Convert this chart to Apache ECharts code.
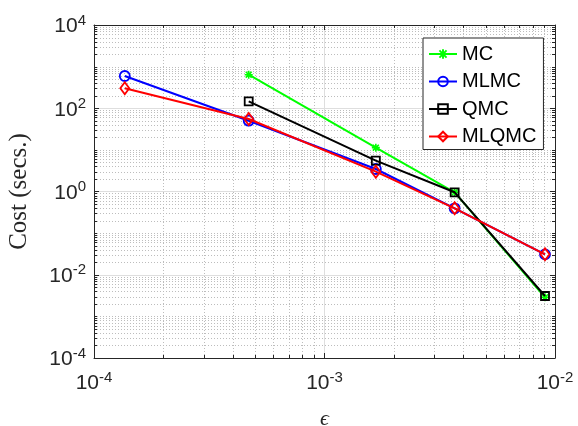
<!DOCTYPE html>
<html>
<head>
<meta charset="utf-8">
<script src="https://cdn.jsdelivr.net/npm/echarts@6/dist/echarts.min.js"></script>
<style>html,body{margin:0;padding:0;background:#fff;}#c{width:578px;height:426px;}</style>
</head>
<body>
<div id="c"></div>
<script>
// ---- data ----
const epsilon   = [1.36e-4, 4.69e-4, 1.67e-3, 3.67e-3, 9.05e-3];
const costMC    = [null,   640,  11.3, 0.957, 0.00287];
const costMLMC  = [596,    50.2, 3.47, 0.395, 0.031];
const costQMC   = [null,   147,  5.5,  0.957, 0.00309];
const costMLQMC = [301,    55.2, 2.99, 0.395, 0.031];
const seriesNames = ['MC', 'MLMC', 'QMC', 'MLQMC'];

// axis structure
const xRange = [1e-4, 1e-2];
const yRange = [1e-4, 1e4];
const xDecades = [-4, -3];
const yDecades = [-4, -3, -2, -1, 0, 1, 2, 3];
const multipliers = [1, 2, 3, 4, 5, 6, 7, 8, 9];
const xMajorStep = 1, yMajorStep = 2;

function minorTicks(decades, step) {
  const out = [];
  decades.forEach(d => multipliers.forEach(m => {
    if (m === 1 && d % step === 0) return;
    out.push(m * Math.pow(10, d));
  }));
  return out;
}
const xMinor = minorTicks(xDecades, xMajorStep);
const yMinor = minorTicks(yDecades, yMajorStep);

function pairs(ys) {
  const r = [];
  ys.forEach((y, i) => { if (y != null) r.push([epsilon[i], y]); });
  return r;
}

const AX = '#262626';
const FONT = "'Liberation Sans', Arial, Helvetica, sans-serif";
const SERIF = "'Liberation Serif', 'Times New Roman', 'DejaVu Serif', serif";

const labelRich = {
  b: { fontSize: 21, fontFamily: FONT, color: AX, lineHeight: 24, verticalAlign: 'bottom' },
  s: { fontSize: 15, fontFamily: FONT, color: AX, lineHeight: 24, verticalAlign: 'top' }
};
function powLabel(v) {
  const e = Math.round(Math.log10(v));
  return '{b|10}{s|' + e + '}';
}

const asterisk = 'path://M4 0h2v10h-2zM0 4h10v2h-10zM0.6 2L2 0.6L9.4 8L8 9.4zM8 0.6L9.4 2L2 9.4L0.6 8z';

function minorRender(orient) {
  return function (params, api) {
    const v = api.value(orient === 'h' ? 1 : 0);
    let p0, p1;
    if (orient === 'h') {
      p0 = api.coord([xRange[0], v]); p1 = api.coord([xRange[1], v]);
    } else {
      p0 = api.coord([v, yRange[0]]); p1 = api.coord([v, yRange[1]]);
    }
    const children = [];
    const tl = 3;
    if (orient === 'h') {
      const y = Math.round(p0[1]) + 0.5;
      children.push({ type: 'line', shape: { x1: p0[0], y1: y, x2: p1[0], y2: y },
        style: { stroke: '#bdbdbd', lineWidth: 1, lineDash: [1, 2] } });
      children.push({ type: 'line', shape: { x1: p0[0], y1: y, x2: p0[0] + tl, y2: y }, style: { stroke: AX, lineWidth: 1 } });
      children.push({ type: 'line', shape: { x1: p1[0], y1: y, x2: p1[0] - tl, y2: y }, style: { stroke: AX, lineWidth: 1 } });
    } else {
      const x = Math.round(p0[0]) + 0.5;
      children.push({ type: 'line', shape: { x1: x, y1: p0[1], x2: x, y2: p1[1] },
        style: { stroke: '#bdbdbd', lineWidth: 1, lineDash: [1, 2] } });
      children.push({ type: 'line', shape: { x1: x, y1: p0[1], x2: x, y2: p0[1] - tl }, style: { stroke: AX, lineWidth: 1 } });
      children.push({ type: 'line', shape: { x1: x, y1: p1[1], x2: x, y2: p1[1] + tl }, style: { stroke: AX, lineWidth: 1 } });
    }
    return { type: 'group', children: children };
  };
}

const chart = echarts.init(document.getElementById('c'), null, { renderer: 'canvas' });

const baseX = { type: 'log', logBase: 10, min: xRange[0], max: xRange[1], interval: xMajorStep };
const baseY = { type: 'log', logBase: 10, min: yRange[0], max: yRange[1], interval: yMajorStep };

const option = {
  animation: false,
  backgroundColor: '#ffffff',
  grid: { left: 94, right: 23, top: 25, bottom: 68, containLabel: false, outerBoundsMode: 'none' },
  xAxis: [
    Object.assign({}, baseX, {
      position: 'bottom',
      name: 'ϵ', nameLocation: 'middle', nameGap: 50,
      nameTextStyle: { fontFamily: SERIF, fontStyle: 'italic', fontSize: 22, color: AX },
      axisLine: { show: true, lineStyle: { color: AX, width: 1 } },
      axisTick: { show: true, inside: true, length: 5, lineStyle: { color: AX } },
      axisLabel: { show: true, margin: 12, formatter: powLabel, rich: labelRich },
      splitLine: { show: true, lineStyle: { color: '#dedede', width: 1 } }
    }),
    Object.assign({}, baseX, {
      position: 'top',
      axisLine: { show: true, lineStyle: { color: AX, width: 1 } },
      axisTick: { show: true, inside: true, length: 5, lineStyle: { color: AX } },
      axisLabel: { show: false }, splitLine: { show: false }
    })
  ],
  yAxis: [
    Object.assign({}, baseY, {
      position: 'left',
      name: 'Cost (secs.)', nameLocation: 'middle', nameGap: 62, nameRotate: 90,
      nameTextStyle: { fontFamily: SERIF, fontSize: 25, color: AX },
      axisLine: { show: true, lineStyle: { color: AX, width: 1 } },
      axisTick: { show: true, inside: true, length: 5, lineStyle: { color: AX } },
      axisLabel: { show: true, margin: 8, formatter: powLabel, rich: labelRich },
      splitLine: { show: true, lineStyle: { color: '#dedede', width: 1 } }
    }),
    Object.assign({}, baseY, {
      position: 'right',
      axisLine: { show: true, lineStyle: { color: AX, width: 1 } },
      axisTick: { show: true, inside: true, length: 5, lineStyle: { color: AX } },
      axisLabel: { show: false }, splitLine: { show: false }
    })
  ],
  legend: {
    data: seriesNames,
    orient: 'vertical',
    left: 423, top: 38,
    padding: [6, 7, 3, 5],
    itemGap: 7.5,
    itemWidth: 28, itemHeight: 12,
    backgroundColor: '#ffffff',
    borderColor: AX, borderWidth: 1, borderRadius: 0,
    textStyle: { fontFamily: FONT, fontSize: 20, color: '#000', lineHeight: 20 },
    z: 10
  },
  series: [
    { type: 'custom', name: 'minorY', coordinateSystem: 'cartesian2d', silent: true, z: 1,
      data: yMinor.map(v => [xRange[0], v]), renderItem: minorRender('h'), clip: false },
    { type: 'custom', name: 'minorX', coordinateSystem: 'cartesian2d', silent: true, z: 1,
      data: xMinor.map(v => [v, yRange[0]]), renderItem: minorRender('v'), clip: false },
    { type: 'line', name: 'MC', data: pairs(costMC), z: 3,
      symbol: asterisk, symbolSize: 8, showAllSymbol: true,
      lineStyle: { color: '#00ff00', width: 2 },
      itemStyle: { color: '#00ff00' } },
    { type: 'line', name: 'MLMC', data: pairs(costMLMC), z: 4,
      symbol: 'circle', symbolSize: 10,
      lineStyle: { color: '#0000ff', width: 2 },
      itemStyle: { color: 'rgba(255,255,255,0)', borderColor: '#0000ff', borderWidth: 1.8 } },
    { type: 'line', name: 'QMC', data: pairs(costQMC), z: 5,
      symbol: 'rect', symbolSize: 8,
      lineStyle: { color: '#000000', width: 2 },
      itemStyle: { color: 'rgba(255,255,255,0)', borderColor: '#000000', borderWidth: 1.8 } },
    { type: 'line', name: 'MLQMC', data: pairs(costMLQMC), z: 6,
      symbol: 'diamond', symbolSize: [9, 12],
      lineStyle: { color: '#ff0000', width: 2 },
      itemStyle: { color: 'rgba(255,255,255,0)', borderColor: '#ff0000', borderWidth: 1.8 } }
  ]
};
chart.setOption(option);
</script>
</body>
</html>
